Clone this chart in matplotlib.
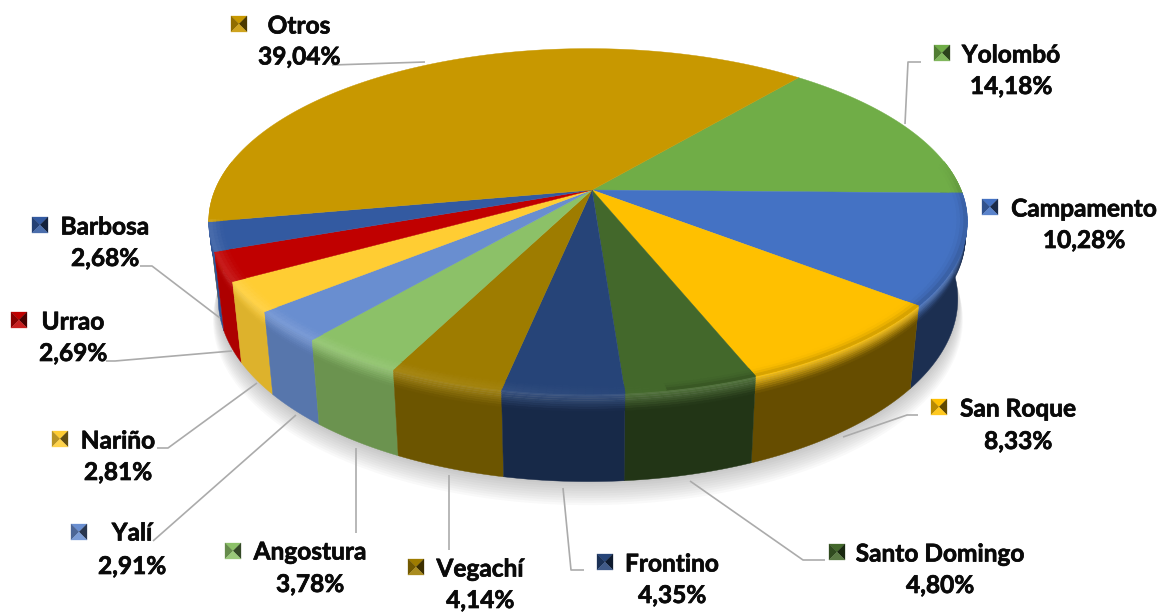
# 3d pie chart, municipios

import numpy as np
import matplotlib
matplotlib.use('Agg')
import matplotlib.pyplot as plt
import matplotlib.patheffects as pe
from matplotlib.collections import PolyCollection
from matplotlib.colors import to_rgb

# data, clockwise from the Yolombo slice
names = ['Yolombó', 'Campamento', 'San Roque', 'Santo Domingo', 'Frontino', 'Vegachí',
         'Angostura', 'Yalí', 'Nariño', 'Urrao', 'Barbosa', 'Otros']
values = [14.18, 10.28, 8.33, 4.80, 4.35, 4.14, 3.78, 2.91, 2.81, 2.69, 2.68, 39.04]
labels = ['14,18%', '10,28%', '8,33%', '4,80%', '4,35%', '4,14%',
          '3,78%', '2,91%', '2,81%', '2,69%', '2,68%', '39,04%']
colors = ['#70AD47', '#4472C4', '#FFC000', '#43682B', '#264478', '#9E7C00',
          '#8CC168', '#698ED0', '#FFCD33', '#C00000', '#335AA1', '#C89800']

# layout in pixels, same order as names
key_pos = [(934, 45), (982, 199), (931, 399), (829, 544), (597, 554), (408, 559),
           (225, 543), (71, 524), (52, 431), (11, 312), (32, 217), (231, 16)]
name_pos = [(1011, 55), (1084, 209), (1018, 409), (940, 554), (672, 564), (480, 569),
            (310, 552), (132, 533), (118, 441), (73, 322), (105, 227), (299, 26)]
value_pos = [(1011, 86.5), (1084, 240.5), (1018, 441.5), (940, 585.5), (672, 595.5), (480, 600.5),
             (310, 584.5), (132, 566.5), (118, 472.5), (73, 353.5), (105, 258.5), (299, 57)]
leaders = [[(921, 62), (908, 62), (905, 124)],
           None,
           [(843, 437), (907, 415), (918, 415)],
           [(690, 481), (803, 560), (825, 560)],
           [(563, 488), (571, 570), (584, 570)],
           [(449, 475), (449, 550)],
           [(356, 448), (356, 533)],
           [(296, 415), (153, 541)],
           [(257, 383), (168, 448), (157, 448)],
           [(232, 351), (115, 361), (106, 361)],
           [(220, 318), (152, 266), (140, 266)],
           [(332, 65), (425, 62)]]

# perspective of the disc
cx, cy = 592, 190
a, b, p = 373, 167, 0.181
skew = -4
drop, shrink = 76, 0.975
start = 40


def project(theta, r=1.0, level=0.0):
    th = np.radians(theta)
    u, v = r * np.sin(th), r * np.cos(th)
    w = 1 + p * v
    s = 1 + (shrink - 1) * level
    return np.column_stack([cx + skew * r + s * a * u / w, cy + (drop * level - s * b * v) / w])


def mix(c1, c2, t):
    return tuple(np.array(c1) * (1 - t) + np.array(c2) * t)


def side_factor(theta):
    return np.interp(theta, [90, 145, 175, 205, 225, 250, 275],
                     [.42, .40, .55, .72, .83, .92, .95])


fig = plt.figure(figsize=(11.64, 6.12), dpi=100)
ax = fig.add_axes([0, 0, 1, 1])
ax.set_xlim(0, 1164)
ax.set_ylim(612, 0)
ax.axis('off')

plt.rcParams['font.family'] = 'Lato'

edges = start + np.concatenate([[0], np.cumsum(values)]) * 360 / sum(values)

# soft shadow under the pie
arc = np.linspace(85, 285, 200)
for off in np.linspace(20, 2, 10):
    pts = project(arc, 1.0 + off / 1500, 1.0) + [0, off]
    ax.fill(pts[:, 0], pts[:, 1], color='#5a5a5a', alpha=0.035, lw=0, zorder=1)

# side wall, back slices first so the front ones cover them
steps = np.linspace(0, 0.2, 9)
order = sorted(range(len(values)), key=lambda i: -abs((edges[i] + edges[i + 1]) / 2 - 180))
for i in order:
    base = to_rgb(colors[i])
    lo, hi = max(edges[i], 80), min(edges[i + 1], 280)
    if hi <= lo:
        continue
    th = np.linspace(lo, hi, 60)
    dark = tuple(np.array(base) * side_factor((lo + hi) / 2))
    # plain lower part of the wall
    outline = np.vstack([project(th, 1.0, 0.1), project(th[::-1], 1.0, 1.0)])
    ax.fill(outline[:, 0], outline[:, 1], color=dark, lw=0.3, zorder=2 + (180 - abs((lo + hi) / 2 - 180)) / 1000)
    # gradient at the top of the wall
    for s0, s1 in zip(steps[:-1], steps[1:]):
        band = np.vstack([project(th, 1.0, s0), project(th[::-1], 1.0, s1)])
        m = (s0 + s1) / 2 / 0.2
        ax.fill(band[:, 0], band[:, 1], color=mix(mix(base, (1, 1, 1), 0.1), dark, m), lw=0.3,
                zorder=2.5)

# top of the pie
for i, col in enumerate(colors):
    th = np.linspace(edges[i], edges[i + 1], 180)
    pts = np.vstack([[cx, cy], project(th)])
    ax.fill(pts[:, 0], pts[:, 1], color=col, lw=0.3, zorder=3)

# thin rim shading on the front part of the top
rings = np.linspace(0.965, 1.0, 5)
for i, col in enumerate(colors):
    base = to_rgb(col)
    lo, hi = max(edges[i], 80), min(edges[i + 1], 260)
    if hi <= lo:
        continue
    th = np.append(np.arange(lo, hi, 1.0), hi)
    quads, cols = [], []
    for t_a, t_b in zip(th[:-1], th[1:]):
        mid = (t_a + t_b) / 2
        fade = np.clip((mid - 80) / 15, 0, 1)
        light = np.clip((mid - 170) / 50, 0, 1)
        for r0, r1 in zip(rings[:-1], rings[1:]):
            q = np.vstack([project(np.array([t_a, t_b]), r0),
                           project(np.array([t_b, t_a]), r1)])
            quads.append(q)
            m = ((r0 + r1) / 2 - 0.965) / 0.035
            if light > 0:
                c = mix(base, (1, 1, 1), 0.12 * light * m)
            else:
                c = mix(base, tuple(np.array(base) * 0.8), fade * m ** 2)
            cols.append(c)
    ax.add_collection(PolyCollection(quads, facecolors=cols, edgecolors=cols,
                                     linewidths=0.6, zorder=4))

# leader lines
for line in leaders:
    if line is None:
        continue
    xs, ys = zip(*line)
    ax.plot(xs, ys, color='#ABABAB', lw=1.2, zorder=5, solid_capstyle='butt')

# labels with the small bevelled keys
heavy = [pe.withStroke(linewidth=0.5, foreground='#0a0a0a')]
for i, nm in enumerate(names):
    base = np.array(to_rgb(colors[i]))
    x, y = key_pos[i]
    w = 16
    c = (x + w / 2, y + w / 2)
    tl, tr, br, bl = (x, y), (x + w, y), (x + w, y + w), (x, y + w)
    for tri, f in [((tl, tr, c), 1.0), ((tr, br, c), 0.38), ((bl, tl, c), 0.72)]:
        ax.fill(*zip(*tri), color=tuple(base * f), lw=0.2, zorder=6)
    ax.fill(*zip(*(br, bl, c)), color=mix(base, (1, 1, 1), 0.12), lw=0.2, zorder=6)
    ax.text(name_pos[i][0], name_pos[i][1], nm, ha='center', va='center',
            fontsize=17.6, fontweight='bold', color='#0a0a0a', zorder=7, path_effects=heavy)
    ax.text(value_pos[i][0], value_pos[i][1], labels[i], ha='center', va='center',
            fontsize=17.6, fontweight='bold', color='#0a0a0a', zorder=7, path_effects=heavy)

plt.savefig('out.png', dpi=100)
